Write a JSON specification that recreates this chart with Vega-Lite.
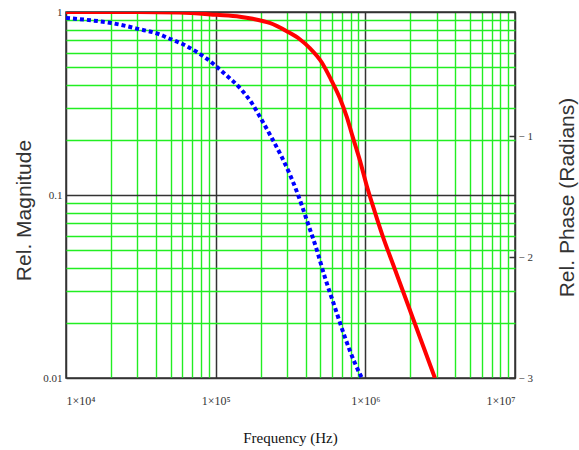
{
  "$schema": "https://vega.github.io/schema/vega-lite/v6.json",
  "width": 449,
  "height": 366,
  "autosize": {"type": "none"},
  "padding": {"left": 66, "top": 12, "right": 64, "bottom": 72},
  "background": "white",
  "config": {"view": {"stroke": "#333333", "strokeWidth": 1.5}},
  "datasets": {
    "magnitude": [
      {"freq": 10000, "mag": 1.0},
      {"freq": 30000, "mag": 0.999},
      {"freq": 57400, "mag": 0.994},
      {"freq": 101600, "mag": 0.965},
      {"freq": 144900, "mag": 0.943},
      {"freq": 176800, "mag": 0.918},
      {"freq": 229600, "mag": 0.871},
      {"freq": 298400, "mag": 0.785},
      {"freq": 364800, "mag": 0.71},
      {"freq": 425600, "mag": 0.635},
      {"freq": 511900, "mag": 0.53},
      {"freq": 587600, "mag": 0.43},
      {"freq": 675000, "mag": 0.339},
      {"freq": 751700, "mag": 0.267},
      {"freq": 824600, "mag": 0.207},
      {"freq": 918600, "mag": 0.155},
      {"freq": 1023000, "mag": 0.112},
      {"freq": 1158000, "mag": 0.0807},
      {"freq": 1310000, "mag": 0.0593},
      {"freq": 1527000, "mag": 0.0421},
      {"freq": 1782000, "mag": 0.0299},
      {"freq": 2079000, "mag": 0.0212},
      {"freq": 2500000, "mag": 0.0141},
      {"freq": 2917000, "mag": 0.01}
    ],
    "phase": [
      {"freq": 10000, "phase": -0.025},
      {"freq": 15000, "phase": -0.045},
      {"freq": 20100, "phase": -0.066},
      {"freq": 25400, "phase": -0.092},
      {"freq": 29600, "phase": -0.112},
      {"freq": 42200, "phase": -0.16},
      {"freq": 47000, "phase": -0.185},
      {"freq": 60100, "phase": -0.24},
      {"freq": 75800, "phase": -0.31},
      {"freq": 87100, "phase": -0.36},
      {"freq": 98400, "phase": -0.413},
      {"freq": 114800, "phase": -0.485},
      {"freq": 149200, "phase": -0.62},
      {"freq": 174100, "phase": -0.727},
      {"freq": 203200, "phase": -0.868},
      {"freq": 237000, "phase": -1.016},
      {"freq": 276300, "phase": -1.173},
      {"freq": 312500, "phase": -1.315},
      {"freq": 353400, "phase": -1.479},
      {"freq": 406000, "phase": -1.694},
      {"freq": 474000, "phase": -1.942},
      {"freq": 536000, "phase": -2.165},
      {"freq": 625000, "phase": -2.413},
      {"freq": 729000, "phase": -2.66},
      {"freq": 851000, "phase": -2.876},
      {"freq": 948000, "phase": -3.0}
    ]
  },
  "layer": [
    {
      "data": {"name": "magnitude"},
      "mark": {"type": "line", "color": "#ff0000", "strokeWidth": 4, "clip": true, "interpolate": "monotone"},
      "encoding": {
        "x": {
          "field": "freq",
          "type": "quantitative",
          "scale": {"type": "log", "domain": [10000, 10000000], "nice": false},
          "axis": {
            "values": [10000, 20000, 30000, 40000, 50000, 60000, 70000, 80000, 90000, 100000, 200000, 300000, 400000, 500000, 600000, 700000, 800000, 900000, 1000000, 2000000, 3000000, 4000000, 5000000, 6000000, 7000000, 8000000, 9000000, 10000000],
            "grid": true,
            "gridColor": {"condition": {"test": "abs(log(datum.value)/LN10 - round(log(datum.value)/LN10)) < 0.001", "value": "#333333"}, "value": "#22ee22"},
            "gridWidth": {"condition": {"test": "abs(log(datum.value)/LN10 - round(log(datum.value)/LN10)) < 0.001", "value": 1.5}, "value": 1.4},
            "gridOpacity": 1,
            "domain": false,
            "ticks": false,
            "labelOverlap": false,
            "labelExpr": "abs(log(datum.value)/LN10 - round(log(datum.value)/LN10)) < 0.001 ? '1×10' + ['⁰','¹','²','³','⁴','⁵','⁶','⁷','⁸'][round(log(datum.value)/LN10)] : ''",
            "labelFont": "Liberation Serif",
            "labelFontSize": 12,
            "labelColor": "#333333",
            "labelPadding": 17,
            "title": "Frequency (Hz)",
            "titleFont": "Liberation Serif",
            "titleFontSize": 15,
            "titleFontWeight": "normal",
            "titleColor": "#111111",
            "titleX": 224,
            "titleY": 59,
            "titleBaseline": "middle",
            "titleAlign": "center"
          }
        },
        "y": {
          "field": "mag",
          "type": "quantitative",
          "scale": {"type": "log", "domain": [0.01, 1], "nice": false},
          "axis": {
            "values": [0.01, 0.02, 0.03, 0.04, 0.05, 0.06, 0.07, 0.08, 0.09, 0.1, 0.2, 0.3, 0.4, 0.5, 0.6, 0.7, 0.8, 0.9, 1],
            "grid": true,
            "gridColor": {"condition": {"test": "abs(log(datum.value)/LN10 - round(log(datum.value)/LN10)) < 0.001", "value": "#333333"}, "value": "#22ee22"},
            "gridWidth": {"condition": {"test": "abs(log(datum.value)/LN10 - round(log(datum.value)/LN10)) < 0.001", "value": 1.5}, "value": 1.4},
            "gridOpacity": 1,
            "domain": false,
            "ticks": false,
            "labelOverlap": false,
            "labelExpr": "abs(log(datum.value)/LN10 - round(log(datum.value)/LN10)) < 0.001 ? format(datum.value, '~g') : ''",
            "labelFont": "Liberation Serif",
            "labelFontSize": 11,
            "labelColor": "#333333",
            "labelPadding": 4,
            "labelBaseline": "middle",
            "title": "Rel. Magnitude",
            "titleFont": "Liberation Sans",
            "titleFontSize": 21,
            "titleFontWeight": "normal",
            "titleColor": "#333333",
            "titleAngle": 270,
            "titleX": -42,
            "titleY": 198,
            "titleBaseline": "middle",
            "titleAlign": "center"
          }
        }
      }
    },
    {
      "data": {"name": "phase"},
      "mark": {"type": "line", "color": "#0000ff", "strokeWidth": 4, "strokeDash": [4, 3], "clip": true, "interpolate": "monotone"},
      "encoding": {
        "x": {"field": "freq", "type": "quantitative", "scale": {"type": "log", "domain": [10000, 10000000], "nice": false}},
        "y": {
          "field": "phase",
          "type": "quantitative",
          "scale": {"domain": [-3, 0.025], "nice": false, "zero": false},
          "axis": {
            "orient": "right",
            "values": [-1, -2, -3],
            "grid": false,
            "domain": false,
            "ticks": true,
            "tickSize": -6,
            "tickColor": "#333333",
            "tickWidth": 1.5,
            "labelPadding": 9,
            "labelExpr": "'− ' + format(abs(datum.value), 'd')",
            "labelFont": "Liberation Serif",
            "labelFontSize": 11,
            "labelColor": "#333333",
            "labelBaseline": "middle",
            "title": "Rel. Phase (Radians)",
            "titleFont": "Liberation Sans",
            "titleFontSize": 21,
            "titleFontWeight": "normal",
            "titleColor": "#333333",
            "titleAngle": 270,
            "titleX": 52,
            "titleY": 185,
            "titleBaseline": "middle",
            "titleAlign": "center"
          }
        }
      }
    }
  ],
  "resolve": {"scale": {"y": "independent"}}
}
